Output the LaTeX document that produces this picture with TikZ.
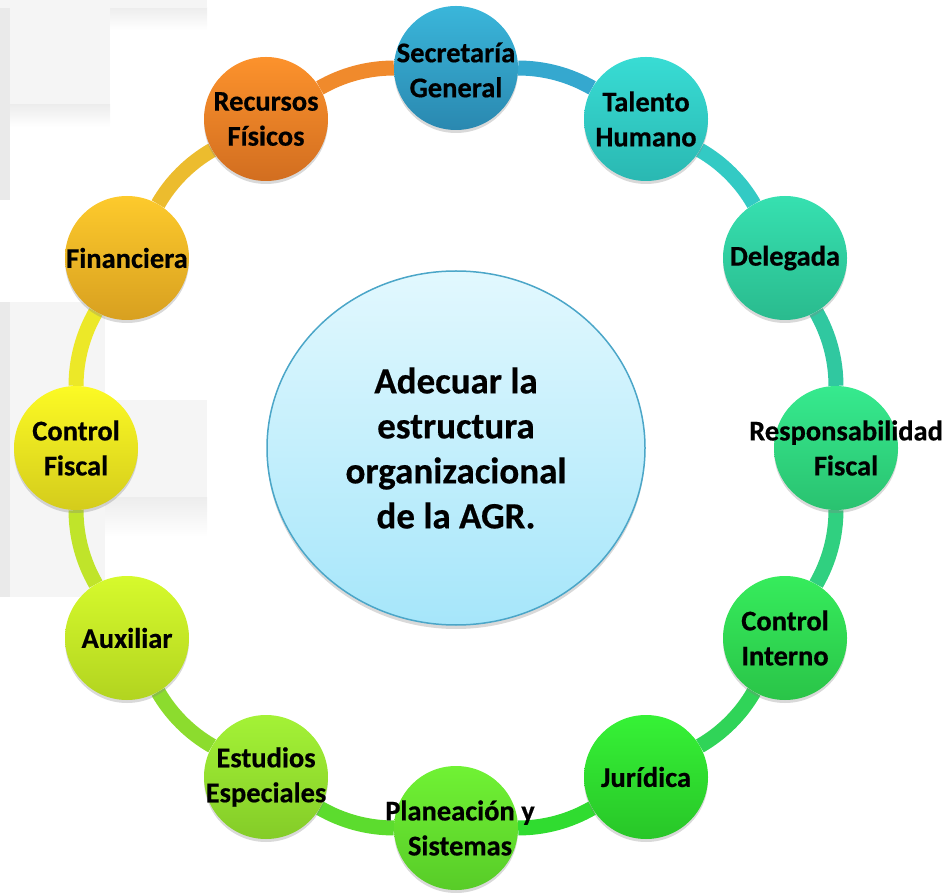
\documentclass[tikz,border=0pt]{standalone}
\usepackage{fontspec}
\setmainfont{Carlito}
\newfontfamily\heavyfont{Carlito}[UprightFeatures={FakeBold=0.5},BoldFeatures={FakeBold=0.5}]
\usetikzlibrary{shadows,shapes.geometric}
\pgfdeclarelayer{back}
\pgfdeclarelayer{ring}
\pgfsetlayers{back,ring,main}

\definecolor{sgT}{HTML}{3AB6DA}\definecolor{sgB}{HTML}{2A88B0}\definecolor{sgS}{HTML}{35A8CF}
\definecolor{thT}{HTML}{38DCD4}\definecolor{thB}{HTML}{2AB8B2}\definecolor{thS}{HTML}{33CAC4}
\definecolor{deT}{HTML}{36E0B0}\definecolor{deB}{HTML}{2ABB8E}\definecolor{deS}{HTML}{30C8A0}
\definecolor{rfT}{HTML}{36EA8E}\definecolor{rfB}{HTML}{2AC270}\definecolor{rfS}{HTML}{30D080}
\definecolor{ciT}{HTML}{36EC5C}\definecolor{ciB}{HTML}{2AC448}\definecolor{ciS}{HTML}{30D458}
\definecolor{juT}{HTML}{36F236}\definecolor{juB}{HTML}{28C628}\definecolor{juS}{HTML}{30DC30}
\definecolor{psT}{HTML}{70F234}\definecolor{psB}{HTML}{58CC28}\definecolor{psS}{HTML}{5CDC2E}
\definecolor{eeT}{HTML}{A4F236}\definecolor{eeB}{HTML}{84CC28}\definecolor{eeS}{HTML}{8CDC2E}
\definecolor{auT}{HTML}{D6FA2C}\definecolor{auB}{HTML}{B2D420}\definecolor{auS}{HTML}{C0E42A}
\definecolor{cfT}{HTML}{FCFA24}\definecolor{cfB}{HTML}{D4CC1C}\definecolor{cfS}{HTML}{ECE828}
\definecolor{fiT}{HTML}{FDCA2C}\definecolor{fiB}{HTML}{D8A020}\definecolor{fiS}{HTML}{ECBC2E}
\definecolor{rpT}{HTML}{FC922C}\definecolor{rpB}{HTML}{D26E20}\definecolor{rpS}{HTML}{F08A2C}
\definecolor{ctrT}{HTML}{E2F8FE}\definecolor{ctrB}{HTML}{A6E6FA}\definecolor{ctrD}{HTML}{4BA6C8}
\definecolor{bgA}{HTML}{F5F5F5}\definecolor{bgB}{HTML}{EAEAEA}

\begin{document}
\begin{tikzpicture}[x=1pt,y=1pt,
  unit/.style={circle, minimum size=124pt, inner sep=0pt,
    drop shadow={shadow xshift=0pt,shadow yshift=-3pt,opacity=0.3}},
  unittext/.style={align=center, font=\heavyfont\fontsize{28.5}{35}\selectfont\bfseries,
    text=black, inner sep=0pt},
  centertext/.style={align=center, font=\heavyfont\fontsize{37}{45}\selectfont\bfseries,
    text=black, inner sep=0pt},
  ringseg/.style={line width=15pt, bend left=15, looseness=0.87},
  bgbox/.style={fill=bgA, draw=none},
  bgedge/.style={fill=bgB, draw=none},
  bgshade/.style={top color=gray!14, bottom color=white, draw=none}]
\useasboundingbox (0,0) rectangle (949,892);

% faint background boxes on the left
\begin{pgfonlayer}{back}
  \fill[bgshade] (40,884) rectangle (207,862);
  \fill[bgbox] (0,892) rectangle (207,884);
  \fill[bgbox] (0,884) rectangle (110,787);
  \fill[bgshade] (10,787) rectangle (110,765);
  \fill[bgedge] (0,884) rectangle (10,692);
  \fill[bgbox] (0,590) rectangle (105,295);
  \fill[bgbox] (0,492) rectangle (207,394);
  \fill[bgshade] (105,394) rectangle (207,355);
  \fill[bgedge] (0,590) rectangle (10,295);
\end{pgfonlayer}

% centre
\node[ellipse, minimum width=378pt, minimum height=354pt, inner sep=0pt,
      top color=ctrT, bottom color=ctrB, draw=ctrD, line width=1.5pt,
      drop shadow={shadow xshift=0pt,shadow yshift=-4pt,opacity=0.3}] (ctr) at (456,444) {};
\node[centertext] (ctr-t) at (ctr) {Adecuar la\\estructura\\organizacional\\de la AGR.};

% units
\node[unit, top color=sgT, bottom color=sgB] (sg) at (456,824) {};
\node[unit, top color=thT, bottom color=thB] (th) at (646,773) {};
\node[unit, top color=deT, bottom color=deB] (de) at (785,634) {};
\node[unit, top color=rfT, bottom color=rfB] (rf) at (836,444) {};
\node[unit, top color=ciT, bottom color=ciB] (ci) at (785,254) {};
\node[unit, top color=juT, bottom color=juB] (ju) at (646,115) {};
\node[unit, top color=psT, bottom color=psB] (ps) at (456,64) {};
\node[unit, top color=eeT, bottom color=eeB] (ee) at (266,115) {};
\node[unit, top color=auT, bottom color=auB] (au) at (127,254) {};
\node[unit, top color=cfT, bottom color=cfB] (cf) at (76,444) {};
\node[unit, top color=fiT, bottom color=fiB] (fi) at (127,634) {};
\node[unit, top color=rpT, bottom color=rpB] (rp) at (266,773) {};

\node[unittext, yshift=-2pt] (sg-t) at (sg) {Secretaría\\General};
\node[unittext] (th-t) at (th) {Talento\\Humano};
\node[unittext] (de-t) at (de) {Delegada};
\node[unittext, xshift=10pt] (rf-t) at (rf) {Responsabilidad\\Fiscal};
\node[unittext] (ci-t) at (ci) {Control\\Interno};
\node[unittext] (ju-t) at (ju) {Jurídica};
\node[unittext, xshift=4pt] (ps-t) at (ps) {Planeación y\\Sistemas};
\node[unittext] (ee-t) at (ee) {Estudios\\Especiales};
\node[unittext] (au-t) at (au) {Auxiliar};
\node[unittext] (cf-t) at (cf) {Control\\Fiscal};
\node[unittext] (fi-t) at (fi) {Financiera};
\node[unittext] (rp-t) at (rp) {Recursos\\Físicos};

% ring
\begin{pgfonlayer}{ring}
  \draw[ringseg, draw=sgS] (sg) to (th);
  \draw[ringseg, draw=thS] (th) to (de);
  \draw[ringseg, draw=deS] (de) to (rf);
  \draw[ringseg, draw=rfS] (rf) to (ci);
  \draw[ringseg, draw=ciS] (ci) to (ju);
  \draw[ringseg, draw=juS] (ju) to (ps);
  \draw[ringseg, draw=psS] (ps) to (ee);
  \draw[ringseg, draw=eeS] (ee) to (au);
  \draw[ringseg, draw=auS] (au) to (cf);
  \draw[ringseg, draw=cfS] (cf) to (fi);
  \draw[ringseg, draw=fiS] (fi) to (rp);
  \draw[ringseg, draw=rpS] (rp) to (sg);
\end{pgfonlayer}
\end{tikzpicture}
\end{document}
